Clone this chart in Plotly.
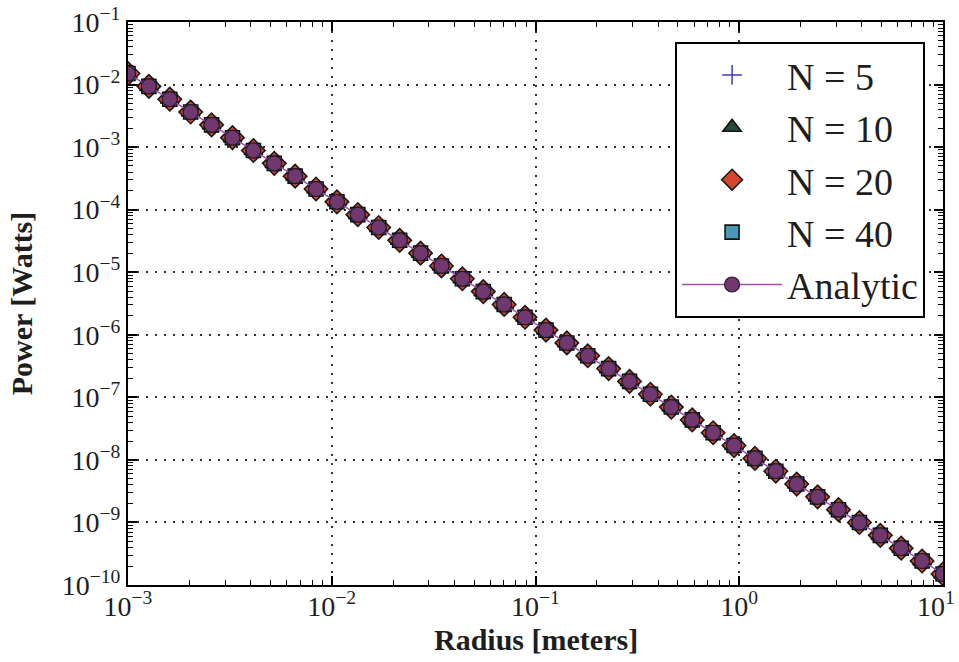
import plotly.graph_objects as go

# ---- data ----
radius = [0.001, 0.0012663, 0.0016035, 0.0020306, 0.0025714, 0.0032562, 0.0041235,
          0.0052216, 0.0066122, 0.0083733, 0.010603, 0.013427, 0.017004, 0.021544,
          0.027283, 0.034551, 0.043755, 0.05541, 0.07017, 0.088862, 0.11253, 0.14251,
          0.18047, 0.22855, 0.28943, 0.36652, 0.46416, 0.5878, 0.74438, 0.94267,
          1.1938, 1.5118, 1.9145, 2.4245, 3.0703, 3.8882, 4.9239, 6.2355, 7.8965, 10.0]

power_analytic = [1.5e-2, 9.354e-3, 5.834e-3, 3.638e-3, 2.269e-3, 1.415e-3, 8.824e-4,
                  5.503e-4, 3.432e-4, 2.140e-4, 1.335e-4, 8.324e-5, 5.191e-5, 3.237e-5,
                  2.019e-5, 1.259e-5, 7.852e-6, 4.897e-6, 3.054e-6, 1.904e-6, 1.188e-6,
                  7.407e-7, 4.619e-7, 2.881e-7, 1.797e-7, 1.120e-7, 6.987e-8, 4.357e-8,
                  2.717e-8, 1.695e-8, 1.057e-8, 6.591e-9, 4.110e-9, 2.563e-9, 1.599e-9,
                  9.969e-10, 6.217e-10, 3.877e-10, 2.418e-10, 1.5e-10]

# numerical results lie on top of the analytic curve in the reference
power_n5 = list(power_analytic)
power_n10 = list(power_analytic)
power_n20 = list(power_analytic)
power_n40 = list(power_analytic)

x_tick_vals = [1e-3, 1e-2, 1e-1, 1e0, 1e1]
x_tick_text = ["10<sup>−3</sup>", "10<sup>−2</sup>", "10<sup>−1</sup>",
               "10<sup>0</sup>", "10<sup>1</sup>\u00a0\u00a0"]
y_tick_vals = [1e-10, 1e-9, 1e-8, 1e-7, 1e-6, 1e-5, 1e-4, 1e-3, 1e-2, 1e-1]
y_tick_text = ["10<sup>−10</sup>", "10<sup>−9</sup>", "10<sup>−8</sup>", "10<sup>−7</sup>",
               "10<sup>−6</sup>", "10<sup>−5</sup>", "10<sup>−4</sup>", "10<sup>−3</sup>",
               "10<sup>−2</sup>", "10<sup>−1</sup>"]

x_minor = [m * 10.0 ** e for e in range(-3, 1) for m in range(2, 10)]
y_minor = [m * 10.0 ** e for e in range(-10, -1) for m in range(2, 10)]

FONT = "Liberation Serif"
INK = "#1e1e1e"

fig = go.Figure()

series = [
    ("N = 5", power_n5, dict(symbol="cross-thin", size=14, color="#3b3bb0",
                             line=dict(color="#3b3bb0", width=1.5))),
    ("N = 10", power_n10, dict(symbol="triangle-up", size=16, color="#284a38",
                               line=dict(color="#111111", width=1.6))),
    ("N = 20", power_n20, dict(symbol="diamond", size=18, color="#d4472c",
                               line=dict(color="#1a1a1a", width=1.6))),
    ("N = 40", power_n40, dict(symbol="square", size=14, color="#4b98b4",
                               line=dict(color="#111111", width=1.6))),
]
for name, vals, mk in series:
    fig.add_trace(go.Scatter(x=radius, y=vals, mode="markers", name=name, marker=mk))

fig.add_trace(go.Scatter(
    x=radius, y=power_analytic, mode="lines+markers", name="Analytic",
    line=dict(color="#a050a8", width=1.5),
    marker=dict(symbol="circle", size=15, color="#70386f",
                line=dict(color="#2a1a2a", width=1.2))))

axis_common = dict(
    type="log", showline=True, linecolor="black", linewidth=2, mirror="allticks",
    ticks="inside", ticklen=9, tickwidth=1.5, tickcolor="black",
    showgrid=True, gridcolor="#333333", griddash="2px,7px", gridwidth=1.5,
    zeroline=False, automargin=False, ticklabeloverflow="allow",
    tickfont=dict(family=FONT, size=28, color=INK),
)

fig.update_xaxes(
    **axis_common, range=[-3, 1], tickvals=x_tick_vals, ticktext=x_tick_text,
    ticklabelstandoff=-5,
    minor=dict(tickvals=x_minor, ticks="inside", ticklen=5, tickwidth=1,
               tickcolor="black", showgrid=False),
)
fig.update_yaxes(
    **axis_common, range=[-10, -1], tickvals=y_tick_vals, ticktext=y_tick_text,
    minor=dict(tickvals=y_minor, ticks="inside", ticklen=5, tickwidth=1,
               tickcolor="black", showgrid=False),
    title=dict(text="<b>Power [Watts]</b>",
               font=dict(family=FONT, size=30, color=INK), standoff=20),
)

fig.add_annotation(
    text="<b>Radius [meters]</b>", xref="paper", yref="paper", x=0.5, y=0,
    xanchor="center", yanchor="middle", yshift=-54, showarrow=False,
    font=dict(family=FONT, size=30, color=INK),
)

fig.update_layout(
    width=959, height=662,
    margin=dict(l=128, r=16, t=22, b=77),
    paper_bgcolor="white", plot_bgcolor="white",
    font=dict(family=FONT, color=INK),
    legend=dict(x=0.978, y=0.965, xanchor="right", yanchor="top",
                bgcolor="white", bordercolor="black", borderwidth=2,
                font=dict(family=FONT, size=38, color=INK),
                itemwidth=100, itemsizing="trace"),
    showlegend=True,
)

fig.write_html(
    "out.html",
    config={"displayModeBar": False},
    post_script="document.body.style.margin='0';document.body.style.overflow='hidden';",
)
